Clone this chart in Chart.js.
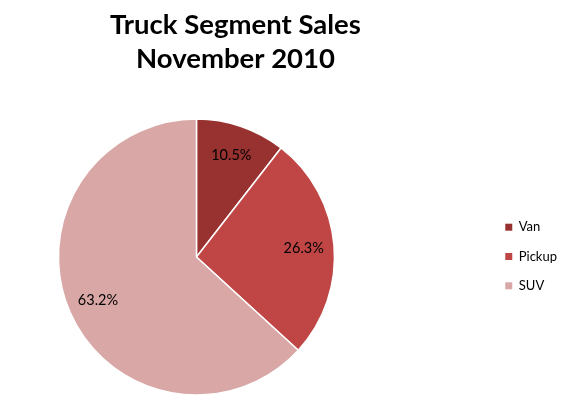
<!DOCTYPE html>
<html lang="en">
<head>
  <meta charset="UTF-8">
  <title>Truck Segment Sales</title>
  <script src="https://cdn.jsdelivr.net/npm/chart.js"></script>
  <style>
    html, body { margin: 0; padding: 0; background: #fff; }
    #wrap { width: 570px; height: 419px; }
  </style>
</head>
<body>
  <div id="wrap"><canvas id="truckChart" width="570" height="419"></canvas></div>

  <script>
    // Chart data
    const segments = ['Van', 'Pickup', 'SUV'];
    const shares = [10.5, 26.3, 63.2];
    const sliceColors = ['#983230', '#BF4644', '#D8A7A6'];
    const titleLines = ['Truck Segment Sales', 'November 2010'];

    const legendShift = { x: 96, y: 49 }; // move the legend out to the right edge

    // push the legend to the right after layout, leaving the pie where it is
    const moveLegend = {
      id: 'moveLegend',
      afterLayout(chart) {
        const lg = chart.legend;
        if (!lg) return;
        lg.left += legendShift.x;
        lg.right += legendShift.x;
        lg.top += legendShift.y;
        lg.bottom += legendShift.y;
      }
    };

    // percentage labels inside the slices
    const sliceLabels = {
      id: 'sliceLabels',
      afterDatasetsDraw(chart) {
        const ctx = chart.ctx;
        const meta = chart.getDatasetMeta(0);
        ctx.save();
        ctx.font = '14.5px Lato';
        ctx.fillStyle = '#000';
        ctx.textAlign = 'center';
        ctx.textBaseline = 'middle';
        meta.data.forEach((arc, i) => {
          const mid = (arc.startAngle + arc.endAngle) / 2;
          const r = arc.outerRadius * 0.78;
          const x = arc.x + Math.cos(mid) * r;
          const y = arc.y + Math.sin(mid) * r;
          ctx.fillText(shares[i].toFixed(1) + '%', x, y);
        });
        ctx.restore();
      }
    };

    new Chart(document.getElementById('truckChart'), {
      type: 'pie',
      data: {
        labels: segments,
        datasets: [{
          data: shares,
          backgroundColor: sliceColors,
          borderColor: '#ffffff',
          borderWidth: 1.5,
          radius: 138
        }]
      },
      options: {
        responsive: false,
        animation: false,
        layout: { padding: { left: 0, right: 99, top: 0, bottom: 4 } },
        plugins: {
          title: {
            display: true,
            text: titleLines,
            color: '#000',
            font: { family: 'Lato', size: 27.5, weight: 'bold', lineHeight: 34 / 27.5 },
            padding: { top: 8, bottom: 23 }
          },
          legend: {
            position: 'right',
            labels: {
              color: '#000',
              font: { family: 'Lato', size: 13 },
              boxWidth: 7,
              boxHeight: 7,
              padding: 16.3,
              generateLabels(chart) {
                const items = Chart.overrides.pie.plugins.legend.labels.generateLabels(chart);
                return items.map(it => Object.assign(it, { lineWidth: 0, strokeStyle: it.fillStyle }));
              }
            }
          },
          tooltip: { enabled: false }
        }
      },
      plugins: [moveLegend, sliceLabels]
    });
  </script>
</body>
</html>
